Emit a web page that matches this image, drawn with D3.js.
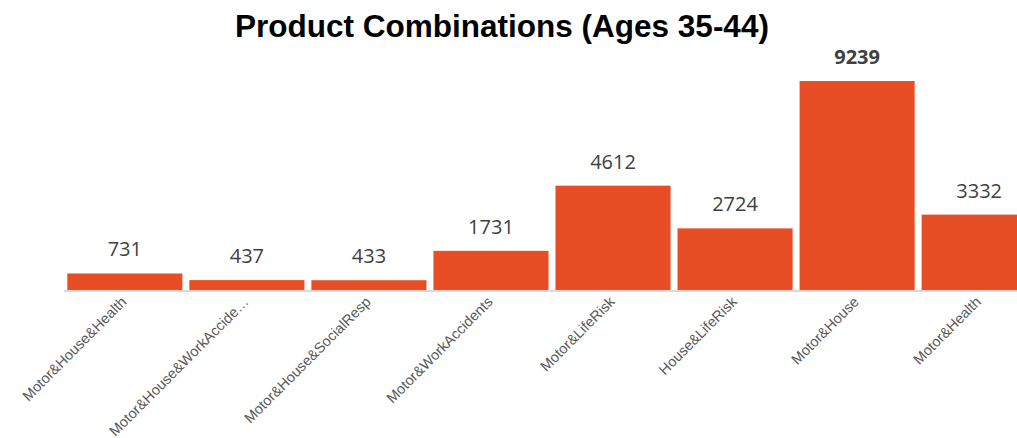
<!DOCTYPE html>
<html>
<head>
<meta charset="utf-8">
<script src="https://cdn.jsdelivr.net/npm/d3@7/dist/d3.min.js"></script>
<style>
  html, body { margin: 0; padding: 0; background: #fff; overflow: hidden; }
  svg { display: block; }
</style>
</head>
<body>
<svg id="chart" width="1017" height="438"></svg>
<script>
// Product combination counts, ages 35-44
const categories = [
  "Motor&House&Health",
  "Motor&House&WorkAccidents",
  "Motor&House&SocialResp",
  "Motor&WorkAccidents",
  "Motor&LifeRisk",
  "House&LifeRisk",
  "Motor&House",
  "Motor&Health"
];
const counts = [731, 437, 433, 1731, 4612, 2724, 9239, 3332];
const chartTitle = "Product Combinations (Ages 35-44)";

const W = 1017, H = 438;
const baseY = 290;
const svg = d3.select("#chart");

const x = d3.scaleBand()
  .domain(categories)
  .range([64, 1040])
  .paddingInner(0.057)
  .paddingOuter(0.027);

const y = d3.scaleLinear()
  .domain([0, 9239])
  .range([baseY, 81]);

const maxVal = d3.max(counts);

// bars
svg.append("g")
  .selectAll("rect")
  .data(categories)
  .join("rect")
  .attr("x", d => x(d))
  .attr("y", (d, i) => y(counts[i]))
  .attr("width", x.bandwidth())
  .attr("height", (d, i) => baseY - y(counts[i]))
  .attr("fill", "#E84E25");

// baseline
svg.append("line")
  .attr("x1", 64).attr("x2", W)
  .attr("y1", baseY + 1).attr("y2", baseY + 1)
  .attr("stroke", "#d9d9d9")
  .attr("stroke-width", 2);

// value labels
svg.append("g")
  .selectAll("text")
  .data(categories)
  .join("text")
  .attr("x", d => x(d) + x.bandwidth() / 2)
  .attr("y", (d, i) => y(counts[i]) - 17)
  .attr("text-anchor", "middle")
  .attr("font-family", "'Open Sans', sans-serif")
  .attr("font-size", 20)
  .attr("font-weight", (d, i) => counts[i] === maxVal ? 700 : 400)
  .attr("fill", "#404040")
  .text((d, i) => counts[i]);

// category labels, truncated when too long
function shorten(s) {
  return s.length > 22 ? s.slice(0, 22) + "…" : s;
}
const xAxis = d3.axisBottom(x).tickSize(0).tickFormat(shorten);
const gx = svg.append("g")
  .attr("transform", `translate(0,${baseY + 2})`)
  .call(xAxis);
gx.select(".domain").remove();
gx.selectAll("text")
  .attr("font-family", "'Liberation Sans', Arial, sans-serif")
  .attr("font-size", 14.5)
  .attr("fill", "#595959")
  .attr("text-anchor", "end")
  .attr("dy", "0.35em")
  .attr("transform", "translate(-3,5) rotate(-45)");

// title
svg.append("text")
  .attr("x", 502)
  .attr("y", 37)
  .attr("text-anchor", "middle")
  .attr("font-family", "'Liberation Sans', Arial, sans-serif")
  .attr("font-weight", 700)
  .attr("font-size", 31.5)
  .attr("fill", "#000")
  .text(chartTitle);
</script>
</body>
</html>
